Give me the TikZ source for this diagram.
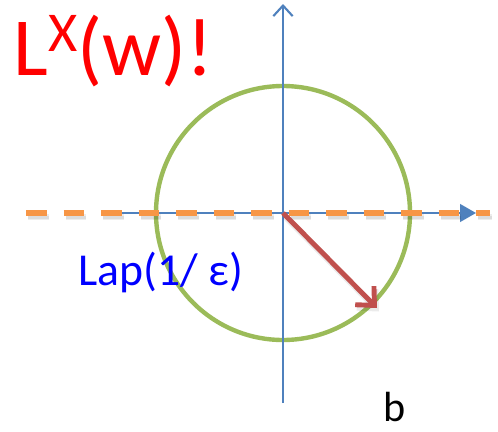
\documentclass[tikz,border=0pt]{standalone}
\usepackage{fontspec}
\setmainfont{Carlito}
\usetikzlibrary{arrows.meta}

\begin{document}
\begin{tikzpicture}[axis/.style={draw=axisblue, line width=1.2pt},
        laplace/.style={draw=dashorange, line width=2.9pt, dash pattern=on 0.41cm off 0.34cm},
        shade/.style={draw=black, line width=3.4pt, dash pattern=on 0.41cm off 0.34cm, opacity=0.07}]
        \useasboundingbox (0,0) rectangle (9.96,8.62);

        \definecolor{axisblue}{RGB}{79,129,189}
        \definecolor{dashorange}{RGB}{247,150,70}
        \definecolor{ballgreen}{RGB}{155,187,89}
        \definecolor{vecred}{RGB}{192,80,77}

        \coordinate (o) at (5.66,4.36);
        \coordinate (ytop) at (5.66,8.54);
        \coordinate (ybot) at (5.66,0.56);
        \coordinate (xleft) at (2.44,4.36);
        \coordinate (xright) at (9.52,4.36);
        \coordinate (dleft) at (0.52,4.36);
        \coordinate (dright) at (9.8,4.36);
        \coordinate (b) at (7.54,2.46);

        % the ball
        \draw [draw=ballgreen, line width=2.5pt] (o) circle (2.54);

        % axes
        \draw [axis, -{Straight Barb[length=6pt, width=11pt]}] (ybot) -- (ytop);
        \draw [axis, -{Triangle[length=9pt, width=10pt]}] (xleft) -- (xright);

        % dashed line with its shadow
        \draw [shade] ([shift={(0.04,-0.07)}]dleft) -- ([shift={(0.04,-0.07)}]dright);
        \draw [shade, line width=2pt] ([shift={(0.04,-0.1)}]dleft) -- ([shift={(0.04,-0.1)}]dright);
        \draw [laplace] (dleft) -- (dright);

        % the noise vector
        \draw [draw=black, opacity=0.08, line width=3.4pt, -{Straight Barb[length=8pt, width=15pt]}] ([shift={(0.04,-0.07)}]o) -- ([shift={(0.04,-0.07)}]b);
        \draw [draw=vecred, line width=2.8pt, -{Straight Barb[length=8pt, width=15pt]}] (o) -- (b);

        \node [anchor=base west, inner sep=0pt, text=red] (lxw) at (0.26,7.12)
            {\fontsize{47}{50}\selectfont L\raisebox{0.29em}{\fontsize{32}{34}\selectfont X}(w)!};
        \node [anchor=base west, inner sep=0pt, text=blue] (lap) at (1.56,2.92)
            {\fontsize{26}{30}\selectfont Lap(1/ ε)};
        \node [anchor=base west, inner sep=0pt] (blabel) at (7.66,0.2)
            {\fontsize{24}{28}\selectfont b};
    \end{tikzpicture}
\end{document}
